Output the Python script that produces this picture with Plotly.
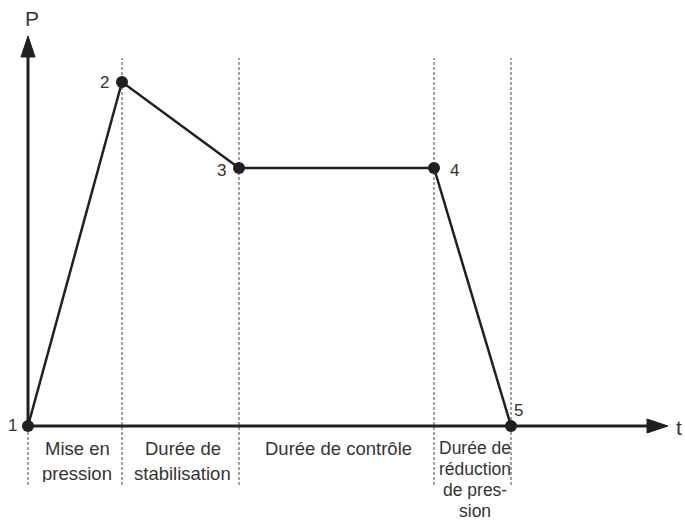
import plotly.graph_objects as go

# Pressure test cycle: points 1..5 (time, pressure) in arbitrary units
point_labels = ["1", "2", "3", "4", "5"]
t_values = [0.0, 0.94, 2.11, 4.06, 4.83]
p_values = [0.0, 3.44, 2.58, 2.58, 0.0]

phase_labels = [
    "Mise en<br>pression",
    "Durée de<br>stabilisation",
    "Durée de contrôle",
    "Durée de<br>réduction<br>de pres-<br>sion",
]

INK = "#231f20"
TEXT = "#333333"
FONT = "Liberation Sans, Arial, sans-serif"

T_END = 6.40   # end of time axis (arrow tip)
P_END = 3.90   # end of pressure axis (arrow tip)
GUIDE_TOP = 3.68
GUIDE_BOTTOM = -0.59

fig = go.Figure()

fig.add_trace(go.Scatter(
    x=t_values, y=p_values,
    mode="lines+markers",
    line=dict(color=INK, width=2.5),
    marker=dict(color=INK, size=12),
    hoverinfo="skip",
))

shapes = []
# dashed guides at each phase boundary (the first one only below the axis)
for i, t in enumerate(t_values):
    top = 0.0 if i == 0 else GUIDE_TOP
    shapes.append(dict(
        type="line", x0=t, x1=t, y0=GUIDE_BOTTOM, y1=top,
        line=dict(color="#444444", width=1, dash="3px,2px"), layer="below",
    ))

# axes
shapes.append(dict(type="line", x0=0, x1=T_END - 0.15, y0=0, y1=0,
                   line=dict(color=INK, width=3)))
shapes.append(dict(type="line", x0=0, x1=0, y0=0, y1=P_END - 0.15,
                   line=dict(color=INK, width=3)))
# arrow heads
shapes.append(dict(type="path",
                   path=f"M {T_END-0.21},0.07 L {T_END},0 L {T_END-0.21},-0.07 Z",
                   fillcolor=INK, line=dict(color=INK, width=1)))
shapes.append(dict(type="path",
                   path=f"M -0.07,{P_END-0.21} L 0,{P_END} L 0.07,{P_END-0.21} Z",
                   fillcolor=INK, line=dict(color=INK, width=1)))

annotations = []
# point numbers
offsets = [(-0.16, 0.01), (-0.18, 0.0), (-0.18, -0.02), (0.20, -0.02), (0.07, 0.16)]
for lab, t, p, (dx, dy) in zip(point_labels, t_values, p_values, offsets):
    annotations.append(dict(
        x=t + dx, y=p + dy, text=lab, showarrow=False,
        font=dict(family=FONT, size=17, color=TEXT),
    ))

# phase labels centred between boundaries, one annotation per line
for lab, a, b in zip(phase_labels, t_values[:-1], t_values[1:]):
    lines = lab.split("<br>")
    tall = len(lines) > 2
    step = 21 if tall else 25          # the 4-line label is packed tighter
    size = 17.5 if tall else 18.5
    for k, line in enumerate(lines):
        annotations.append(dict(
            x=(a + b) / 2 + 0.02, y=-0.22, yshift=-step * k,
            text=line, showarrow=False, height=18, valign="middle",
            font=dict(family=FONT, size=size, color=TEXT),
        ))

# axis titles
annotations.append(dict(x=0.04, y=4.08, text="P", showarrow=False,
                        font=dict(family=FONT, size=21, color=TEXT)))
annotations.append(dict(x=6.51, y=-0.01, text="t", showarrow=False,
                        font=dict(family=FONT, size=21, color=TEXT)))

fig.update_layout(
    width=685, height=521,
    margin=dict(l=0, r=0, t=0, b=0),
    paper_bgcolor="white", plot_bgcolor="white",
    showlegend=False,
    shapes=shapes,
    annotations=annotations,
    xaxis=dict(range=[-0.28, 6.57], visible=False, fixedrange=True),
    yaxis=dict(range=[-0.95, 4.26], visible=False, fixedrange=True),
)

# drop the page's default body margin so the figure fills the window exactly
fig.write_html(
    "out.html",
    config={"displayModeBar": False},
    post_script="document.body.style.margin='0';document.body.style.overflow='hidden';",
)
